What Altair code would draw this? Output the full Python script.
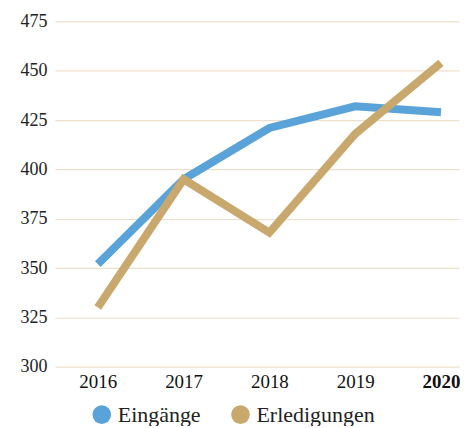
import altair as alt
import pandas as pd

years = [2016, 2017, 2018, 2019, 2020]
eingaenge = [352, 395, 421, 432, 429]
erledigungen = [330, 395, 368, 418, 454]
series = ["Eingänge", "Erledigungen"]
colors = ["#5aa3d9", "#c9a86d"]
y_ticks = [300, 325, 350, 375, 400, 425, 450, 475]

rows = []
for y, a, b in zip(years, eingaenge, erledigungen):
    rows.append({"Jahr": y, "Wert": a, "Serie": series[0]})
    rows.append({"Jahr": y, "Wert": b, "Serie": series[1]})
df = pd.DataFrame(rows)

FONT = "Liberation Serif"

x = alt.X("Jahr:Q",
          scale=alt.Scale(domain=[2015.5, 2020.21], nice=False, zero=False),
          axis=alt.Axis(values=years, format="d", title=None, grid=False,
                        domain=False, ticks=False, labelPadding=6,
                        labelFontSize=19, labelFont=FONT, labelColor="#111",
                        labelFontWeight=alt.expr("datum.value == 2020 ? 'bold' : 'normal'")))
y = alt.Y("Wert:Q",
          scale=alt.Scale(domain=[300, 475], nice=False, zero=False),
          axis=alt.Axis(values=y_ticks, title=None, domain=False, ticks=False,
                        labelPadding=8, labelFontSize=18, labelFont=FONT,
                        labelColor="#222", gridColor="#eedfca", gridWidth=1.2))

legend = alt.Legend(title=None, orient="none", direction="horizontal",
                    legendX=36, legendY=383,
                    symbolType="circle", symbolSize=350,
                    symbolOpacity=1, symbolStrokeWidth=0,
                    labelFont=FONT, labelFontSize=22,
                    labelColor="#222", labelOffset=5,
                    columnPadding=28)
color = alt.Color("Serie:N", scale=alt.Scale(domain=series, range=colors), legend=legend)

lines = alt.Chart(df).mark_line(strokeWidth=8, strokeCap="butt", strokeJoin="miter").encode(
    x=x, y=y, color=color,
)

points = alt.Chart(df).mark_point(filled=True, size=0).encode(
    x=x, y=y, color=color,
)

chart = alt.layer(lines, points).properties(
    width=405, height=346,
    padding={"left": 12, "top": 4, "right": 0, "bottom": 0},
).configure(font=FONT).configure_legend(labelFont=FONT).configure_view(stroke=None)

chart.save("out.html", embed_options={"renderer": "svg", "actions": False})
